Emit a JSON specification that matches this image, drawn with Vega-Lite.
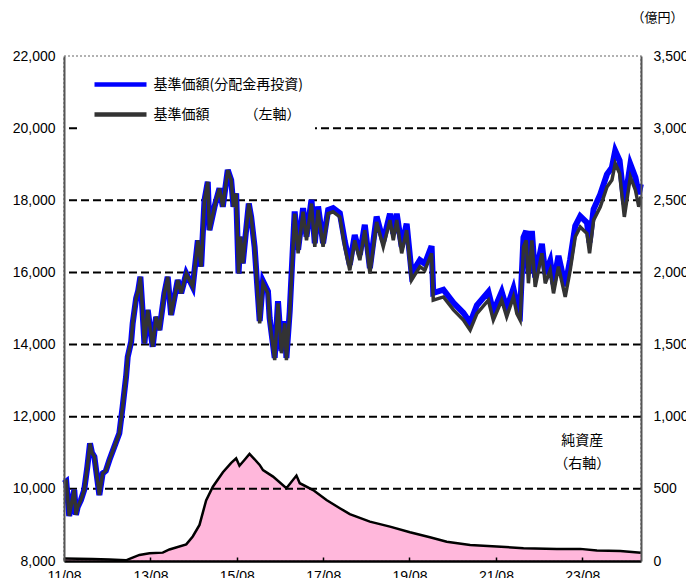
{
  "$schema": "https://vega.github.io/schema/vega-lite/v6.json",
  "width": 577,
  "height": 505,
  "autosize": {"type": "none"},
  "padding": {"left": 64, "top": 56, "right": 45, "bottom": 17},
  "background": "white",
  "datasets": {
    "grid": [{"v": 10000}, {"v": 12000}, {"v": 14000}, {"v": 16000}, {"v": 18000}, {"v": 20000}],
    "note": [{"label": "純資産"}],
    "assets": [
      {"date": "2011-08-01", "assets": 18},
      {"date": "2012-03-30", "assets": 14},
      {"date": "2012-08-19", "assets": 10},
      {"date": "2013-01-07", "assets": 5},
      {"date": "2013-02-05", "assets": 15},
      {"date": "2013-04-30", "assets": 42},
      {"date": "2013-07-24", "assets": 54},
      {"date": "2013-11-13", "assets": 58},
      {"date": "2014-01-09", "assets": 80},
      {"date": "2014-05-31", "assets": 115},
      {"date": "2014-07-25", "assets": 170},
      {"date": "2014-09-20", "assets": 250},
      {"date": "2014-11-15", "assets": 420},
      {"date": "2015-01-11", "assets": 515},
      {"date": "2015-04-06", "assets": 615},
      {"date": "2015-06-15", "assets": 680},
      {"date": "2015-07-27", "assets": 712},
      {"date": "2015-08-24", "assets": 660},
      {"date": "2015-10-05", "assets": 700},
      {"date": "2015-11-17", "assets": 742},
      {"date": "2015-12-30", "assets": 705},
      {"date": "2016-02-11", "assets": 666},
      {"date": "2016-03-10", "assets": 630},
      {"date": "2016-06-03", "assets": 585},
      {"date": "2016-09-24", "assets": 504},
      {"date": "2016-12-18", "assets": 592},
      {"date": "2017-01-15", "assets": 539},
      {"date": "2017-05-08", "assets": 492},
      {"date": "2017-08-29", "assets": 423},
      {"date": "2017-12-20", "assets": 366},
      {"date": "2018-03-14", "assets": 325},
      {"date": "2018-08-31", "assets": 273},
      {"date": "2019-02-17", "assets": 238},
      {"date": "2019-08-05", "assets": 199},
      {"date": "2020-01-21", "assets": 165},
      {"date": "2020-06-11", "assets": 134},
      {"date": "2020-12-26", "assets": 111},
      {"date": "2021-08-08", "assets": 100},
      {"date": "2022-03-22", "assets": 89},
      {"date": "2022-12-30", "assets": 84},
      {"date": "2023-07-15", "assets": 84},
      {"date": "2023-12-03", "assets": 72},
      {"date": "2024-06-18", "assets": 70},
      {"date": "2024-12-09", "assets": 58}
    ],
    "price": [
      {"date": "2011-08-01", "nav": 10150, "navr": 10150},
      {"date": "2011-08-20", "nav": 10200, "navr": 10200},
      {"date": "2011-09-14", "nav": 9250, "navr": 9250},
      {"date": "2011-10-10", "nav": 9700, "navr": 9700},
      {"date": "2011-10-27", "nav": 9970, "navr": 9970},
      {"date": "2011-11-10", "nav": 9280, "navr": 9280},
      {"date": "2011-11-25", "nav": 9500, "navr": 9500},
      {"date": "2011-12-22", "nav": 9690, "navr": 9690},
      {"date": "2012-01-19", "nav": 9970, "navr": 9970},
      {"date": "2012-02-14", "nav": 10600, "navr": 10600},
      {"date": "2012-03-08", "nav": 11260, "navr": 11260},
      {"date": "2012-03-25", "nav": 11000, "navr": 11000},
      {"date": "2012-04-14", "nav": 10890, "navr": 10890},
      {"date": "2012-05-26", "nav": 9830, "navr": 9830},
      {"date": "2012-06-23", "nav": 10430, "navr": 10430},
      {"date": "2012-07-20", "nav": 10500, "navr": 10500},
      {"date": "2012-08-19", "nav": 10800, "navr": 10800},
      {"date": "2012-09-30", "nav": 11170, "navr": 11170},
      {"date": "2012-11-11", "nav": 11540, "navr": 11540},
      {"date": "2012-12-09", "nav": 12280, "navr": 12280},
      {"date": "2013-01-07", "nav": 13110, "navr": 13110},
      {"date": "2013-01-21", "nav": 13660, "navr": 13660},
      {"date": "2013-02-19", "nav": 14080, "navr": 14080},
      {"date": "2013-03-04", "nav": 14590, "navr": 14590},
      {"date": "2013-04-02", "nav": 15280, "navr": 15280},
      {"date": "2013-04-20", "nav": 15500, "navr": 15500},
      {"date": "2013-05-08", "nav": 15880, "navr": 15880},
      {"date": "2013-05-25", "nav": 15000, "navr": 15000},
      {"date": "2013-06-11", "nav": 14030, "navr": 14030},
      {"date": "2013-07-09", "nav": 14960, "navr": 14960},
      {"date": "2013-08-20", "nav": 13940, "navr": 13940},
      {"date": "2013-09-18", "nav": 14770, "navr": 14770},
      {"date": "2013-10-16", "nav": 14400, "navr": 14400},
      {"date": "2013-11-27", "nav": 15420, "navr": 15420},
      {"date": "2013-12-25", "nav": 15880, "navr": 15880},
      {"date": "2014-01-23", "nav": 14820, "navr": 14820},
      {"date": "2014-02-20", "nav": 15300, "navr": 15300},
      {"date": "2014-03-20", "nav": 15790, "navr": 15790},
      {"date": "2014-04-18", "nav": 15420, "navr": 15420},
      {"date": "2014-05-31", "nav": 15970, "navr": 15970},
      {"date": "2014-07-25", "nav": 15600, "navr": 15600},
      {"date": "2014-09-06", "nav": 16890, "navr": 16890},
      {"date": "2014-10-04", "nav": 16160, "navr": 16160},
      {"date": "2014-11-01", "nav": 18000, "navr": 18000},
      {"date": "2014-11-29", "nav": 18510, "navr": 18510},
      {"date": "2014-12-13", "nav": 17170, "navr": 17170},
      {"date": "2015-01-25", "nav": 17820, "navr": 17820},
      {"date": "2015-03-08", "nav": 18330, "navr": 18330},
      {"date": "2015-04-05", "nav": 17820, "navr": 17820},
      {"date": "2015-05-17", "nav": 18840, "navr": 18840},
      {"date": "2015-06-15", "nav": 18560, "navr": 18560},
      {"date": "2015-07-04", "nav": 17820, "navr": 17820},
      {"date": "2015-07-27", "nav": 18190, "navr": 18190},
      {"date": "2015-08-16", "nav": 15970, "navr": 15970},
      {"date": "2015-09-02", "nav": 16990, "navr": 16990},
      {"date": "2015-09-21", "nav": 16250, "navr": 16250},
      {"date": "2015-11-11", "nav": 17910, "navr": 17910},
      {"date": "2015-12-01", "nav": 17540, "navr": 17540},
      {"date": "2015-12-30", "nav": 16710, "navr": 16710},
      {"date": "2016-02-11", "nav": 14590, "navr": 14650},
      {"date": "2016-03-10", "nav": 15700, "navr": 15760},
      {"date": "2016-04-21", "nav": 15420, "navr": 15480},
      {"date": "2016-05-05", "nav": 14680, "navr": 14740},
      {"date": "2016-06-17", "nav": 13570, "navr": 13630},
      {"date": "2016-07-15", "nav": 15140, "navr": 15200},
      {"date": "2016-08-13", "nav": 13760, "navr": 13820},
      {"date": "2016-09-10", "nav": 14590, "navr": 14650},
      {"date": "2016-09-24", "nav": 13570, "navr": 13630},
      {"date": "2016-10-22", "nav": 14860, "navr": 14920},
      {"date": "2016-11-19", "nav": 16710, "navr": 16770},
      {"date": "2016-12-03", "nav": 17630, "navr": 17690},
      {"date": "2017-01-01", "nav": 16530, "navr": 16630},
      {"date": "2017-02-12", "nav": 17680, "navr": 17780},
      {"date": "2017-03-13", "nav": 16890, "navr": 16990},
      {"date": "2017-04-24", "nav": 17910, "navr": 18010},
      {"date": "2017-05-22", "nav": 16710, "navr": 16810},
      {"date": "2017-06-19", "nav": 17730, "navr": 17830},
      {"date": "2017-07-31", "nav": 16710, "navr": 16810},
      {"date": "2017-09-12", "nav": 17630, "navr": 17730},
      {"date": "2017-10-24", "nav": 17680, "navr": 17780},
      {"date": "2017-12-20", "nav": 17540, "navr": 17640},
      {"date": "2018-01-31", "nav": 16710, "navr": 16860},
      {"date": "2018-03-14", "nav": 16060, "navr": 16210},
      {"date": "2018-04-25", "nav": 16890, "navr": 17040},
      {"date": "2018-06-07", "nav": 16340, "navr": 16490},
      {"date": "2018-07-19", "nav": 17170, "navr": 17320},
      {"date": "2018-08-31", "nav": 15970, "navr": 16120},
      {"date": "2018-10-27", "nav": 17400, "navr": 17550},
      {"date": "2018-12-22", "nav": 16710, "navr": 16860},
      {"date": "2019-02-17", "nav": 17450, "navr": 17630},
      {"date": "2019-03-17", "nav": 16890, "navr": 17070},
      {"date": "2019-04-15", "nav": 17450, "navr": 17630},
      {"date": "2019-05-27", "nav": 16530, "navr": 16710},
      {"date": "2019-07-08", "nav": 17170, "navr": 17350},
      {"date": "2019-08-19", "nav": 15790, "navr": 15970},
      {"date": "2019-10-28", "nav": 16160, "navr": 16340},
      {"date": "2019-12-09", "nav": 16060, "navr": 16240},
      {"date": "2020-02-04", "nav": 16530, "navr": 16730},
      {"date": "2020-02-18", "nav": 15230, "navr": 15430},
      {"date": "2020-05-14", "nav": 15320, "navr": 15520},
      {"date": "2020-08-07", "nav": 14960, "navr": 15160},
      {"date": "2020-10-30", "nav": 14680, "navr": 14880},
      {"date": "2020-12-26", "nav": 14400, "navr": 14600},
      {"date": "2021-02-21", "nav": 14860, "navr": 15090},
      {"date": "2021-05-29", "nav": 15230, "navr": 15460},
      {"date": "2021-07-10", "nav": 14680, "navr": 14910},
      {"date": "2021-09-19", "nav": 15230, "navr": 15460},
      {"date": "2021-10-31", "nav": 14770, "navr": 15000},
      {"date": "2021-12-27", "nav": 15320, "navr": 15550},
      {"date": "2022-01-25", "nav": 14860, "navr": 15120},
      {"date": "2022-02-22", "nav": 14680, "navr": 14940},
      {"date": "2022-03-22", "nav": 16710, "navr": 16970},
      {"date": "2022-04-14", "nav": 16890, "navr": 17150},
      {"date": "2022-05-03", "nav": 15700, "navr": 15960},
      {"date": "2022-06-01", "nav": 16890, "navr": 17150},
      {"date": "2022-06-29", "nav": 15600, "navr": 15860},
      {"date": "2022-08-25", "nav": 16530, "navr": 16790},
      {"date": "2022-09-22", "nav": 15700, "navr": 15960},
      {"date": "2022-11-03", "nav": 16060, "navr": 16320},
      {"date": "2022-12-01", "nav": 15420, "navr": 15680},
      {"date": "2023-01-12", "nav": 16160, "navr": 16460},
      {"date": "2023-03-10", "nav": 15320, "navr": 15620},
      {"date": "2023-04-21", "nav": 16060, "navr": 16360},
      {"date": "2023-06-03", "nav": 16990, "navr": 17290},
      {"date": "2023-07-15", "nav": 17260, "navr": 17560},
      {"date": "2023-09-10", "nav": 17080, "navr": 17380},
      {"date": "2023-10-02", "nav": 16530, "navr": 16830},
      {"date": "2023-11-05", "nav": 17450, "navr": 17750},
      {"date": "2024-01-01", "nav": 17820, "navr": 18170},
      {"date": "2024-02-26", "nav": 18370, "navr": 18720},
      {"date": "2024-04-08", "nav": 18560, "navr": 18910},
      {"date": "2024-05-06", "nav": 19020, "navr": 19370},
      {"date": "2024-06-12", "nav": 18750, "navr": 19100},
      {"date": "2024-07-22", "nav": 17540, "navr": 17890},
      {"date": "2024-09-11", "nav": 18650, "navr": 19000},
      {"date": "2024-10-24", "nav": 18280, "navr": 18630},
      {"date": "2024-11-21", "nav": 17820, "navr": 18170},
      {"date": "2024-12-09", "nav": 18100, "navr": 18450}
    ]
  },
  "layer": [
    {
      "data": {"name": "assets"},
      "mark": {"type": "area", "color": "#FF99CC", "line": {"color": "#000000", "strokeWidth": 2.5}},
      "encoding": {
        "x": {
          "field": "date", "type": "temporal",
          "scale": {"domain": [{"year": 2011, "month": 8, "date": 1}, {"year": 2024, "month": 12, "date": 10}]},
          "axis": {
            "values": [
              {"year": 2011, "month": 8, "date": 1}, {"year": 2013, "month": 8, "date": 1},
              {"year": 2015, "month": 8, "date": 1}, {"year": 2017, "month": 8, "date": 1},
              {"year": 2019, "month": 8, "date": 1}, {"year": 2021, "month": 8, "date": 1},
              {"year": 2023, "month": 8, "date": 1}
            ],
            "format": "%y/%m", "labelFont": "Liberation Sans", "labelFontSize": 14, "labelColor": "#000000",
            "labelPadding": 12, "ticks": true, "tickSize": -4, "tickColor": "#000000", "tickWidth": 1.5,
            "domainColor": "#000000", "domainWidth": 2.5, "grid": false, "title": null, "zindex": 1,
            "labelOverlap": false, "labelFlush": false
          }
        },
        "y": {
          "field": "assets", "type": "quantitative",
          "scale": {"domain": [0, 3500], "nice": false, "zero": true},
          "axis": {
            "orient": "right", "values": [0, 500, 1000, 1500, 2000, 2500, 3000, 3500], "format": ",.0f",
            "labelFont": "Liberation Sans", "labelFontSize": 14, "labelColor": "#000000", "labelPadding": 12,
            "ticks": false, "domainColor": "#555555", "domainWidth": 2, "grid": false, "zindex": 1,
            "title": "（億円）", "titleAngle": 0, "titleX": 16, "titleY": -39, "titleAlign": "center",
            "titleBaseline": "middle", "titleFont": "Noto Sans CJK JP", "titleFontSize": 13,
            "titleFontWeight": "normal", "titleColor": "#000000"
          }
        }
      }
    },
    {
      "data": {"name": "note"},
      "mark": {"type": "text", "text": ["純資産", "（右軸）"], "font": "Noto Sans CJK JP", "fontSize": 14, "lineHeight": 23, "align": "center", "baseline": "middle", "color": "#000000"},
      "encoding": {
        "x": {"datum": {"year": 2023, "month": 8, "date": 1}, "type": "temporal"},
        "y": {"datum": 835, "type": "quantitative", "scale": {"domain": [0, 3500], "nice": false, "zero": true}, "axis": null}
      }
    },
    {
      "data": {"name": "grid"},
      "mark": {"type": "rule", "color": "#000000", "strokeWidth": 2, "strokeDash": [8, 4]},
      "encoding": {
        "y": {"field": "v", "type": "quantitative", "scale": {"domain": [8000, 22000], "nice": false, "zero": false}, "axis": null}
      }
    },
    {
      "data": {"name": "price"},
      "mark": {"type": "line", "strokeWidth": 6},
      "encoding": {
        "x": {"field": "date", "type": "temporal"},
        "y": {"field": "navr", "type": "quantitative", "scale": {"domain": [8000, 22000], "nice": false, "zero": false}, "axis": null},
        "color": {
          "datum": "基準価額(分配金再投資)", "type": "nominal",
          "scale": {"domain": ["基準価額(分配金再投資)", "基準価額"], "range": ["#0000FF", "#333333"]},
          "legend": {"labelExpr": "datum.label == '基準価額' ? '基準価額　　　（左軸）' : datum.label"}
        }
      }
    },
    {
      "data": {"name": "price"},
      "mark": {"type": "line", "strokeWidth": 3.5},
      "encoding": {
        "x": {"field": "date", "type": "temporal"},
        "y": {
          "field": "nav", "type": "quantitative", "scale": {"domain": [8000, 22000], "nice": false, "zero": false},
          "axis": {
            "orient": "left", "values": [8000, 10000, 12000, 14000, 16000, 18000, 20000, 22000], "format": ",.0f",
            "labelFont": "Liberation Sans", "labelFontSize": 14, "labelColor": "#000000", "labelPadding": 9,
            "ticks": false, "domainColor": "#555555", "domainWidth": 2, "grid": false, "title": null, "zindex": 1
          }
        },
        "color": {
          "datum": "基準価額", "type": "nominal",
          "legend": {"labelExpr": "datum.label == '基準価額' ? '基準価額　　　（左軸）' : datum.label"}
        }
      }
    }
  ],
  "resolve": {"scale": {"y": "independent"}},
  "config": {
    "view": {"stroke": "#999999", "strokeDash": [2, 2], "strokeWidth": 1.5},
    "font": "Noto Sans CJK JP",
    "legend": {
      "orient": "none", "legendX": 15, "legendY": 1, "title": null, "direction": "vertical",
      "symbolType": "M-2,0H2", "symbolSize": 676, "symbolStrokeWidth": 4.5, "symbolOffset": 14,
      "labelFont": "Noto Sans CJK JP", "labelFontSize": 14, "labelColor": "#000000", "labelOffset": 17.5,
      "labelLimit": 500, "padding": 12, "fillColor": "white", "rowPadding": 5
    }
  }
}
